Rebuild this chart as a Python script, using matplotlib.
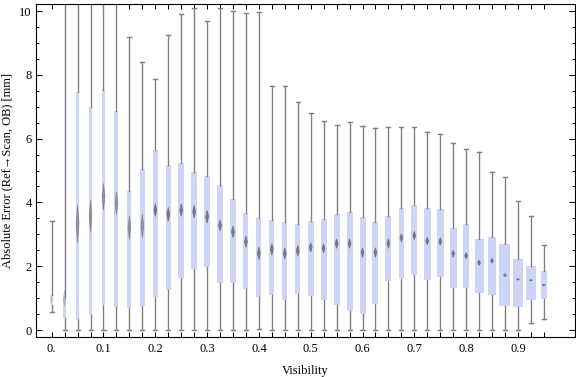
import matplotlib
matplotlib.use("Agg")
import matplotlib.pyplot as plt
from matplotlib.ticker import FixedLocator, MultipleLocator

# ---------------- data ----------------
visibility = [0.0, 0.025, 0.05, 0.075, 0.1, 0.125, 0.15, 0.175, 0.2, 0.225,
              0.25, 0.275, 0.3, 0.325, 0.35, 0.375, 0.4, 0.425, 0.45, 0.475,
              0.5, 0.525, 0.55, 0.575, 0.6, 0.625, 0.65, 0.675, 0.7, 0.725,
              0.75, 0.775, 0.8, 0.825, 0.85, 0.875, 0.9, 0.925, 0.95]
err_min = [0.55, 0, 0, 0, 0, 0, 0, 0, 0, 0,
           0, 0, 0, 0, 0, 0, 0.03, 0, 0, 0,
           0, 0, 0, 0, 0, 0, 0, 0, 0, 0,
           0, 0, 0, 0, 0, 0, 0, 0.22, 0.33]
err_q1 = [0.78, 0.39, 0.345, 0.48, 0.79, 0.72, 0.68, 0.75, 1.04, 1.26,
          1.64, 1.92, 1.99, 1.48, 1.48, 1.30, 1.02, 1.10, 0.94, 1.13,
          1.07, 0.95, 0.79, 0.60, 0.51, 0.83, 1.55, 1.61, 1.72, 1.57,
          1.67, 1.33, 1.33, 1.15, 1.11, 0.76, 0.73, 0.94, 0.97]
err_median = [0.95, 1.0, 3.34, 3.57, 4.18, 3.97, 3.21, 3.26, 3.76, 3.63,
              3.76, 3.71, 3.55, 3.28, 3.08, 2.77, 2.40, 2.53, 2.40, 2.48,
              2.59, 2.56, 2.71, 2.71, 2.43, 2.43, 2.71, 2.89, 2.96, 2.79,
              2.77, 2.39, 2.33, 2.11, 2.17, 1.72, 1.59, 1.56, 1.41]
err_q3 = [1.10, 1.04, 7.46, 6.99, 7.52, 6.87, 4.36, 5.05, 5.64, 5.18,
          5.24, 4.95, 4.83, 4.55, 4.11, 3.66, 3.51, 3.45, 3.39, 3.32,
          3.42, 3.48, 3.64, 3.70, 3.54, 3.39, 3.57, 3.82, 3.92, 3.82,
          3.79, 3.20, 3.32, 2.85, 2.92, 2.70, 2.23, 2.01, 1.84]
err_max = [3.42, 12.0, 12.5, 13.0, 12.8, 12.2, 9.17, 8.39, 7.86, 9.25,
           9.90, 10.08, 9.68, 10.10, 9.99, 9.93, 9.96, 7.64, 7.64, 7.14,
           6.79, 6.54, 6.42, 6.51, 6.38, 6.32, 6.36, 6.35, 6.35, 6.22,
           6.13, 5.85, 5.69, 5.57, 4.94, 4.79, 4.06, 3.56, 2.65]
# relative box widths (sample-size dependent in the original)
box_width = [0.0029, 0.0058, 0.0064, 0.0064, 0.0077, 0.0077, 0.0077, 0.0097, 0.0097, 0.0097,
             0.0116, 0.0116, 0.0116, 0.0122, 0.0116, 0.0097, 0.0097, 0.0097, 0.0097, 0.0097,
             0.0116, 0.0110, 0.0116, 0.0116, 0.0116, 0.0116, 0.0116, 0.0110, 0.0116, 0.0135,
             0.0141, 0.0129, 0.0129, 0.0174, 0.0168, 0.0212, 0.0207, 0.0207, 0.0116]
# half-height of the median notch marker
notch_half = [0.15, 0.25, 0.6, 0.5, 0.42, 0.37, 0.37, 0.37, 0.2, 0.22,
              0.2, 0.2, 0.2, 0.18, 0.18, 0.18, 0.2, 0.18, 0.18, 0.17,
              0.15, 0.15, 0.15, 0.15, 0.15, 0.15, 0.15, 0.13, 0.13, 0.12,
              0.12, 0.11, 0.1, 0.08, 0.08, 0.05, 0.03, 0.02, 0.03]
x_ticklabels = ["0.", "0.1", "0.2", "0.3", "0.4", "0.5", "0.6", "0.7", "0.8", "0.9"]
y_ticklabels = ["0", "2", "4", "6", "8", "10"]

# ---------------- figure ----------------
plt.rcParams['font.family'] = ['Liberation Serif', 'DejaVu Serif']
fig = plt.figure(figsize=(5.76, 3.77), dpi=100)
ax = fig.add_axes([36/576, 1 - 337/377, (575-36)/576, (337-4)/377])

box_color = '#CDD4F5'
whisk_color = '#808080'

stats = []
for i in range(len(visibility)):
    stats.append(dict(med=err_median[i], q1=err_q1[i], q3=err_q3[i],
                      whislo=err_min[i], whishi=err_max[i], fliers=[]))

ax.bxp(stats, positions=visibility, widths=box_width, capwidths=0.0078,
       patch_artist=True, manage_ticks=False, showfliers=False,
       boxprops=dict(facecolor=box_color, edgecolor='none', linewidth=0),
       whiskerprops=dict(color=whisk_color, linewidth=1.0),
       capprops=dict(color=whisk_color, linewidth=1.0),
       medianprops=dict(linewidth=0, alpha=0))

# median notch diamonds
dw = 0.0028
for i, x in enumerate(visibility):
    m = err_median[i]
    h = notch_half[i]
    if i < 2:
        alpha = 0.25
    elif i < 8:
        alpha = 0.6
    else:
        alpha = 0.85
    ax.fill([x, x + dw, x, x - dw], [m - h, m, m + h, m],
            color='#6a6a6a', alpha=alpha, linewidth=0.5, zorder=4)

ax.set_xlim(-0.0303, 1.0102)
ax.set_ylim(-0.219, 10.22)

ax.xaxis.set_major_locator(FixedLocator(visibility))
ax.set_xticklabels([x_ticklabels[int(round(v * 10))] if abs(v * 10 - round(v * 10)) < 1e-6 else ""
                    for v in visibility])
ax.yaxis.set_major_locator(FixedLocator([0, 2, 4, 6, 8, 10]))
ax.set_yticklabels(y_ticklabels)
ax.yaxis.set_minor_locator(MultipleLocator(0.5))

ax.tick_params(axis='x', which='major', direction='in', length=3.6, width=0.75,
               top=True, bottom=True, labelsize=9, pad=4)
ax.tick_params(axis='y', which='major', direction='in', length=4.2, width=0.75,
               left=True, right=True, labelsize=9, pad=3)
ax.tick_params(axis='y', which='minor', direction='in', length=2.0, width=0.75,
               left=True, right=True)
for sp in ax.spines.values():
    sp.set_linewidth(0.8)
    sp.set_color('black')

ax.set_xlabel("Visibility", fontsize=9)
ax.set_ylabel("Absolute Error (Ref\u2192Scan, OB) [mm]", fontsize=9)
ax.xaxis.set_label_coords(0.5, -0.085)
ax.yaxis.set_label_coords(-0.0425, 0.5)

fig.savefig("out.png", dpi=100)
